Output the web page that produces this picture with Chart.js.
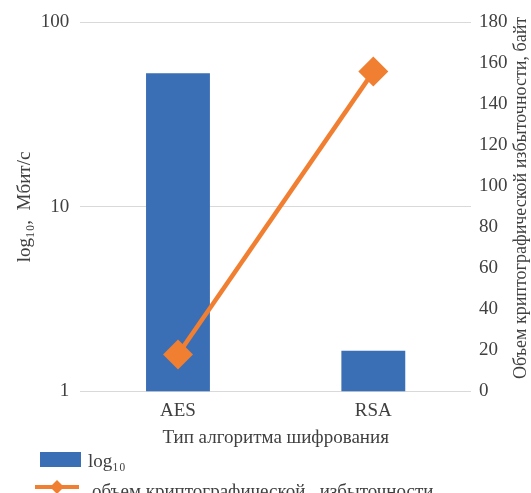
<!DOCTYPE html>
<html>
<head>
<meta charset="utf-8">
<script src="https://cdn.jsdelivr.net/npm/chart.js@4"></script>
<style>
  html, body { margin: 0; padding: 0; background: #fff; }
  #wrap { width: 531px; height: 493px; position: relative; overflow: hidden; }
</style>
</head>
<body>
<div id="wrap"><canvas id="c" width="531" height="493"></canvas></div>
<script>
const categories = ['AES', 'RSA'];
const speedValues = [53, 1.66];
const redundancyValues = [18, 156];
const leftTicks = [1, 10, 100];
const barLabel = 'log₁₀';
const lineLabel = 'объем криптографической   избыточности';
const leftTitle = 'log₁₀,  Мбит/с';
const rightTitle = 'Объем криптографической избыточности, байт';
const xTitle = 'Тип алгоритма шифрования';

const FONT = '"Liberation Serif", "Times New Roman", serif';
const TXT = '#404040';
const BLUE = '#3A6EB5';
const ORANGE = '#F07F31';

const extrasPlugin = {
  id: 'extras',
  afterDraw(chart) {
    const ctx = chart.ctx;
    const ca = chart.chartArea;
    ctx.save();
    // right axis title, reading bottom-to-top
    ctx.font = '18px ' + FONT;
    ctx.fillStyle = TXT;
    ctx.textAlign = 'center';
    ctx.textBaseline = 'middle';
    ctx.translate(521.5, (ca.top + ca.bottom) / 2 - 9);
    ctx.rotate(-Math.PI / 2);
    ctx.fillText(rightTitle, 0, 0);
    ctx.restore();

    ctx.save();
    ctx.font = '19px ' + FONT;
    ctx.textBaseline = 'middle';
    ctx.textAlign = 'left';
    // bar item
    ctx.fillStyle = BLUE;
    ctx.fillRect(40, 452, 41, 15);
    ctx.fillStyle = TXT;
    ctx.fillText(chart.data.datasets[0].label, 88, 462);
    // line item
    ctx.strokeStyle = ORANGE;
    ctx.lineWidth = 4;
    ctx.beginPath();
    ctx.moveTo(35, 487);
    ctx.lineTo(79, 487);
    ctx.stroke();
    ctx.fillStyle = ORANGE;
    ctx.beginPath();
    ctx.moveTo(57, 480); ctx.lineTo(64, 487); ctx.lineTo(57, 494); ctx.lineTo(50, 487);
    ctx.closePath();
    ctx.fill();
    ctx.fillStyle = TXT;
    ctx.fillText(chart.data.datasets[1].label, 92, 492);
    ctx.restore();
  }
};

new Chart(document.getElementById('c'), {
  data: {
    labels: categories,
    datasets: [
      {
        type: 'bar',
        label: barLabel,
        data: speedValues,
        backgroundColor: BLUE,
        yAxisID: 'y',
        barPercentage: 1,
        categoryPercentage: 0.327,
        order: 2
      },
      {
        type: 'line',
        label: lineLabel,
        data: redundancyValues,
        borderColor: ORANGE,
        backgroundColor: ORANGE,
        borderWidth: 4.5,
        pointStyle: 'rectRot',
        pointRadius: 15,
        pointHoverRadius: 15,
        pointBorderWidth: 0,
        yAxisID: 'y1',
        order: 1
      }
    ]
  },
  options: {
    responsive: false,
    animation: false,
    devicePixelRatio: 1,
    layout: { padding: { top: 7, bottom: 44, left: 14, right: 15.5 } },
    plugins: { legend: { display: false }, tooltip: { enabled: false } },
    scales: {
      x: {
        grid: { display: false, drawTicks: false },
        border: { display: false },
        ticks: { color: TXT, font: { family: FONT, size: 19 }, padding: 8 },
        title: { display: true, text: xTitle, color: TXT, font: { family: FONT, size: 19 }, padding: { top: -4, bottom: 0 } }
      },
      y: {
        type: 'logarithmic',
        position: 'left',
        min: 1,
        max: 100,
        afterBuildTicks(axis) { axis.ticks = leftTicks.map(v => ({ value: v })); },
        grid: { color: '#d9d9d9', lineWidth: 1, drawTicks: false },
        border: { display: false },
        ticks: { color: TXT, font: { family: FONT, size: 19 }, padding: 11, callback: v => String(v) },
        title: { display: true, text: leftTitle, color: TXT, font: { family: FONT, size: 19 }, padding: { top: 0, bottom: -7 } }
      },
      y1: {
        type: 'linear',
        position: 'right',
        min: 0,
        max: 180,
        grid: { display: false, drawTicks: false },
        border: { display: false },
        ticks: { stepSize: 20, color: TXT, font: { family: FONT, size: 19 }, padding: 8 }
      }
    }
  },
  plugins: [extrasPlugin]
});
</script>
</body>
</html>
